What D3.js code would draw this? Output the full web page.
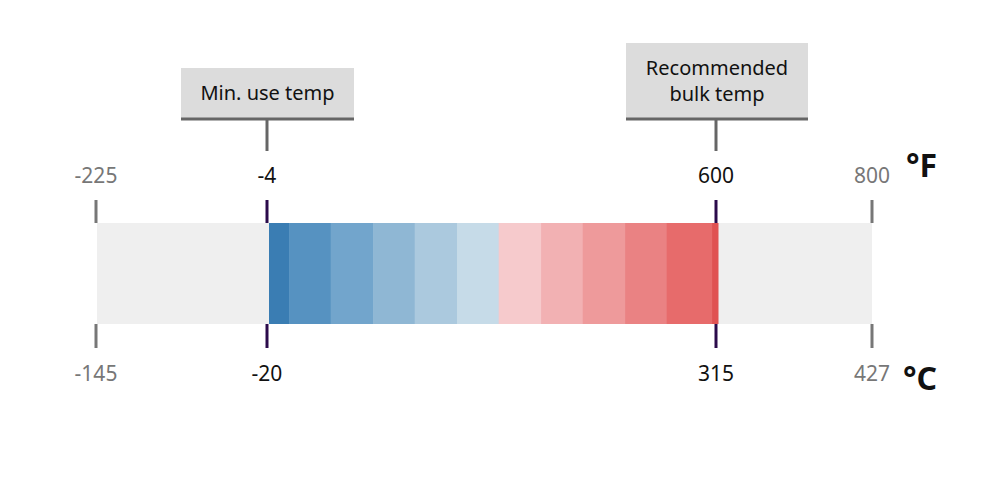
<!DOCTYPE html>
<html>
<head>
<meta charset="utf-8">
<script src="https://cdn.jsdelivr.net/npm/d3@7"></script>
<style>
  body { margin: 0; background: #fff; }
  text { font-family: "Noto Sans", "Open Sans", sans-serif; }
</style>
</head>
<body>
<div id="chart"></div>
<script>
// tick values on each scale
var fTicks = [-225, -4, 600, 800]
var cTicks = [-145, -20, 315, 427]
var fInner = [-4, 600]   // limits of the usable range
// colour band edges (°F) and colours
var bandEdges = [-4, 23, 79, 136, 192, 249, 305, 362, 418, 475, 531, 592, 600]
var bandColors = ["#3a7db3", "#5692c1", "#72a5cc", "#8fb7d4", "#abc9de", "#c6dbe8",
                  "#f6cacc", "#f2b1b3", "#ee9a9b", "#ea8283", "#e76b6b", "#e05252"]
var callouts = [
  {value: -4, lines: ["Min. use temp"]},
  {value: 600, lines: ["Recommended", "bulk temp"]}
]

var width = 1000, height = 502
var barTop = 223, barBottom = 324

var svg = d3.select("#chart").append("svg")
    .attr("width", width)
    .attr("height", height)

// piecewise scales so the ticks sit where the picture has them
var xF = d3.scaleLinear().domain(fTicks).range([96, 267, 716, 872])
var xC = d3.scaleLinear().domain(cTicks).range([96, 267, 716, 872])

// background bar
svg.append("rect")
  .attr("x", xF(-225) + 1).attr("y", barTop)
  .attr("width", xF(800) - xF(-225) - 1).attr("height", barBottom - barTop)
  .attr("fill", "#efefef")

// colour bands
var bands = d3.range(bandColors.length).map(function(i) {
  return {x0: bandEdges[i], x1: bandEdges[i + 1], color: bandColors[i]}
})
svg.selectAll(".band").data(bands).enter().append("rect")
  .attr("class", "band")
  .attr("x", function(d) { return xF(d.x0) + 2 })
  .attr("width", function(d) { return xF(d.x1) - xF(d.x0) + 0.5 })
  .attr("y", barTop).attr("height", barBottom - barTop)
  .attr("fill", function(d) { return d.color })

// top (°F) ticks
function isInner(i) { return i == 1 || i == 2 }
svg.selectAll(".ftick").data(fTicks).enter().append("line")
  .attr("x1", function(d) { return xF(d) }).attr("x2", function(d) { return xF(d) })
  .attr("y1", 200).attr("y2", barTop)
  .attr("stroke", function(d, i) { return isInner(i) ? "#2b0b4b" : "#777" })
  .attr("stroke-width", 3)
svg.selectAll(".flabel").data(fTicks).enter().append("text")
  .attr("x", function(d) { return xF(d) }).attr("y", 183)
  .attr("text-anchor", "middle").attr("font-size", 21)
  .attr("fill", function(d, i) { return isInner(i) ? "#111" : "#777" })
  .text(function(d) { return d })

// bottom (°C) ticks
svg.selectAll(".ctick").data(cTicks).enter().append("line")
  .attr("x1", function(d) { return xC(d) }).attr("x2", function(d) { return xC(d) })
  .attr("y1", barBottom).attr("y2", 348)
  .attr("stroke", function(d, i) { return isInner(i) ? "#2b0b4b" : "#777" })
  .attr("stroke-width", 3)
svg.selectAll(".clabel").data(cTicks).enter().append("text")
  .attr("x", function(d) { return xC(d) }).attr("y", 381)
  .attr("text-anchor", "middle").attr("font-size", 21)
  .attr("fill", function(d, i) { return isInner(i) ? "#111" : "#777" })
  .text(function(d) { return d })

// unit labels
svg.append("text").attr("x", 906).attr("y", 177)
  .attr("font-size", 32).attr("font-weight", "bold").attr("fill", "#111").text("°F")
svg.append("text").attr("x", 903).attr("y", 390)
  .attr("font-size", 32).attr("font-weight", "bold").attr("fill", "#111").text("°C")

// callout boxes
var boxW = [173, 182]
callouts.forEach(function(c, i) {
  var cx = xF(c.value)
  var h = 26 + c.lines.length * 25
  var bottom = 119
  var bx = i == 0 ? cx - 86 : cx - 90
  svg.append("rect")
    .attr("x", bx).attr("y", bottom - h)
    .attr("width", boxW[i]).attr("height", h)
    .attr("fill", "#dcdcdc")
  svg.append("line")
    .attr("x1", bx).attr("x2", bx + boxW[i])
    .attr("y1", bottom).attr("y2", bottom)
    .attr("stroke", "#666").attr("stroke-width", 3)
  svg.append("line")
    .attr("x1", cx).attr("x2", cx)
    .attr("y1", bottom).attr("y2", 151)
    .attr("stroke", "#666").attr("stroke-width", 3)
  c.lines.forEach(function(t, j) {
    svg.append("text")
      .attr("x", bx + boxW[i] / 2)
      .attr("y", bottom - h + 32 + j * 26)
      .attr("text-anchor", "middle").attr("font-size", 20)
      .attr("fill", "#111").text(t)
  })
})
</script>
</body>
</html>
